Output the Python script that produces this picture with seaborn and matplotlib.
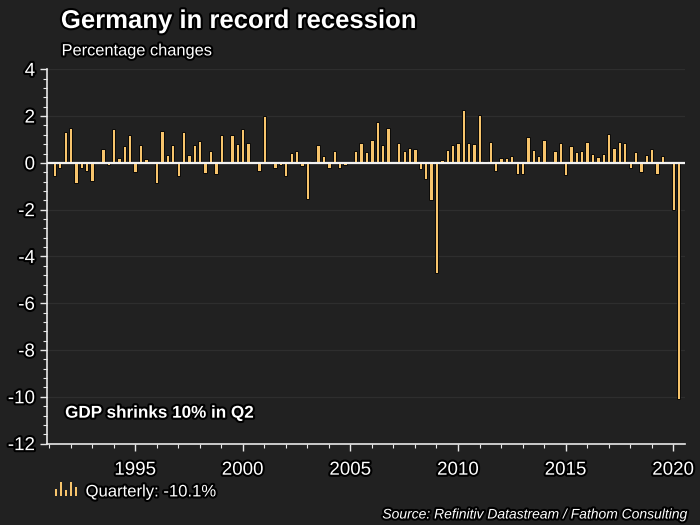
import numpy as np
import pandas as pd
import seaborn as sns
import matplotlib.pyplot as plt
from matplotlib import patheffects as pe
from matplotlib.ticker import MultipleLocator
from matplotlib.legend_handler import HandlerBase
from matplotlib.patches import Rectangle

# German GDP, quarter-on-quarter % change, 1991 Q2 - 2020 Q2
start_quarter = "1991Q2"
end_quarter = "2020Q2"
growth = [
    -0.57, -0.24, 1.34,                                  # 1991 Q2-Q4
    1.51, -0.84, -0.24, -0.34,                           # 1992
    -0.78, 0.0, 0.60, -0.10,                             # 1993
    1.43, 0.22, 0.72, 1.19,                              # 1994
    -0.40, 0.75, 0.16, 0.0,                              # 1995
    -0.84, 1.37, 0.34, 0.75,                             # 1996
    -0.57, 1.31, 0.34, 0.75,                             # 1997
    0.93, -0.43, 0.50, -0.46,                            # 1998
    1.19, 0.0, 1.19, 0.79,                               # 1999
    1.46, 0.84, 0.0, -0.33,                              # 2000
    2.02, 0.0, -0.20, -0.10,                             # 2001
    -0.56, 0.41, 0.50, -0.13,                            # 2002
    -1.55, 0.09, 0.78, 0.28,                             # 2003
    -0.21, 0.50, -0.22, -0.08,                           # 2004
    0.0, 0.52, 0.83, 0.47,                               # 2005
    0.97, 1.73, 0.78, 1.50,                              # 2006
    0.05, 0.83, 0.50, 0.65,                              # 2007
    0.60, -0.27, -0.67, -1.60,                           # 2008
    -4.70, 0.13, 0.53, 0.77,                             # 2009
    0.85, 2.25, 0.86, 0.79,                              # 2010
    2.03, 0.10, 0.90, -0.34,                             # 2011
    0.21, 0.21, 0.31, -0.46,                             # 2012
    -0.49, 1.09, 0.54, 0.31,                             # 2013
    0.99, 0.0, 0.50, 0.87,                               # 2014
    -0.53, 0.72, 0.46, 0.50,                             # 2015
    0.90, 0.40, 0.24, 0.40,                              # 2016
    1.24, 0.65, 0.90, 0.84,                              # 2017
    -0.24, 0.47, -0.37, 0.32,                            # 2018
    0.60, -0.49, 0.31, 0.0,                              # 2019
    -2.00, -10.10,                                       # 2020 Q1-Q2
]
yticks = list(range(-12, 5, 2))
year_ticks = [1995, 2000, 2005, 2010, 2015, 2020]

quarters = pd.period_range(start_quarter, end_quarter, freq="Q")
df = pd.DataFrame({
    "date": quarters.year + (quarters.quarter - 1) / 4,
    "growth": growth,
})

BG = "#212121"
BAR = "#f7c46c"
glow = [pe.withStroke(linewidth=3, foreground="black")]

sns.set_theme(style="ticks", rc={
    "figure.facecolor": BG,
    "axes.facecolor": BG,
    "axes.edgecolor": "#e8e8e8",
    "axes.unicode_minus": False,
    "xtick.color": "#e8e8e8",
    "ytick.color": "#e8e8e8",
})
plt.rcParams["font.family"] = ["Liberation Sans", "DejaVu Sans"]

fig = plt.figure(figsize=(7, 5.25), dpi=100)
ax = fig.add_axes([0.067, 0.155, 0.912, 0.713])

ax.yaxis.grid(True, color="#2e2e2e", lw=0.9)
ax.set_axisbelow(True)

sns.barplot(data=df, x="date", y="growth", native_scale=True, orient="x",
            width=0.62, color=BAR, saturation=1, edgecolor="#080808",
            linewidth=0.7, errorbar=None, ax=ax, zorder=3)
ax.axhline(0, color="#f2f2f2", lw=1.6, zorder=4)

ax.set_xlim(1990.9, 2020.56)
ax.set_ylim(-12, 4)
ax.set_yticks(yticks)
ax.yaxis.set_minor_locator(MultipleLocator(0.4))
ax.set_xticks(year_ticks)
ax.xaxis.set_minor_locator(MultipleLocator(1))
ax.tick_params(axis="both", labelsize=13.5, labelcolor="white")
ax.tick_params(axis="y", which="major", length=5, width=1)
ax.tick_params(axis="y", which="minor", length=3, width=0.8)
ax.tick_params(axis="x", which="major", length=5, width=1, pad=8)
ax.tick_params(axis="x", which="minor", length=3, width=0.8)
for lab in ax.get_xticklabels() + ax.get_yticklabels():
    lab.set_path_effects(glow)
ax.set_xlabel("")
ax.set_ylabel("")
for side in ["top", "right"]:
    ax.spines[side].set_visible(False)
ax.spines["left"].set_linewidth(1.2)
ax.spines["bottom"].set_linewidth(1.2)

fig.text(0.087, 0.96, "Germany in record recession", color="white",
         fontsize=18.5, fontweight="bold", va="center", path_effects=glow)
fig.text(0.088, 0.903, "Percentage changes", color="white",
         fontsize=11.8, va="center", path_effects=glow)
fig.text(0.093, 0.213, "GDP shrinks 10% in Q2", color="white",
         fontsize=12.3, fontweight="bold", va="center", path_effects=glow)
fig.text(0.983, 0.02, "Source: Refinitiv Datastream / Fathom Consulting",
         color="white", fontsize=10, style="italic", ha="right", va="center",
         path_effects=glow)


class MiniBars(HandlerBase):
    # little "bar chart" glyph used as the legend key
    def create_artists(self, legend, orig_handle, xd, yd, width, height,
                       fontsize, trans):
        levels = [0.55, 1.0, 0.45, 1.0, 0.7]
        step = width / len(levels)
        out = []
        for i, h in enumerate(levels):
            r = Rectangle((xd + i * step + step * 0.3, yd), step * 0.4,
                          height * 1.2 * h, facecolor=BAR, edgecolor="none",
                          transform=trans)
            out.append(r)
        return out


key = Rectangle((0, 0), 1, 1, color=BAR)
leg = fig.legend([key], [f"Quarterly: {growth[-1]:.1f}%"],
                 handler_map={Rectangle: MiniBars()},
                 loc="center left", bbox_to_anchor=(0.077, 0.063),
                 frameon=False, fontsize=12, handlelength=1.5,
                 handletextpad=0.4, borderpad=0, borderaxespad=0)
for t in leg.get_texts():
    t.set_color("white")
    t.set_path_effects(glow)

fig.savefig("out.png", dpi=100, facecolor=BG)
